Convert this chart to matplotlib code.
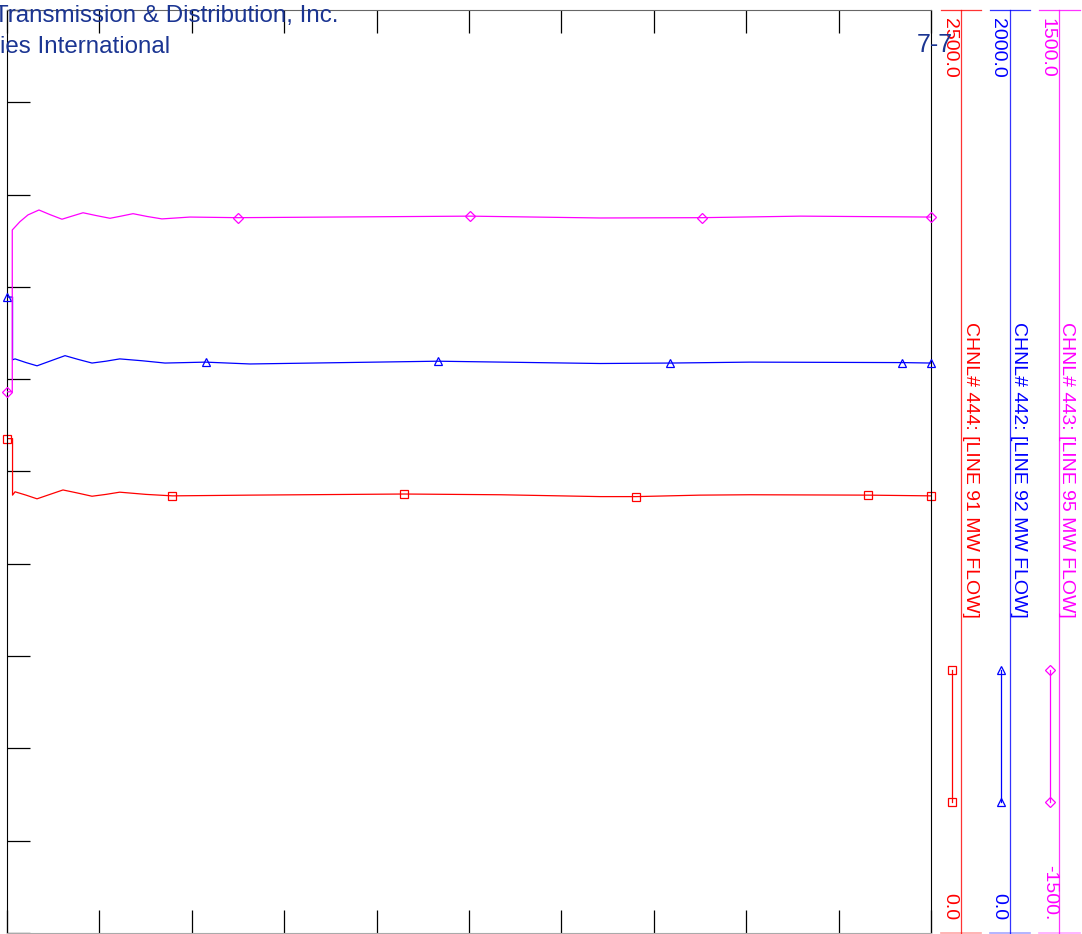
import matplotlib.pyplot as plt

plt.rcParams['font.family'] = ['Liberation Sans', 'DejaVu Sans']

# time (s) and MW flow
red_t = [0, 0.06, 0.06, 0.087, 0.206, 0.325, 0.465, 0.606, 0.758, 0.92, 1.071, 1.22, 1.504, 1.79,
         2.63, 4.30, 5.34, 6.42, 6.81, 7.5, 8.04, 9.32, 10.0]
red_v = [1339, 1339, 1186, 1195, 1186, 1176, 1188, 1200, 1192, 1183, 1188, 1194, 1188, 1184,
         1186, 1189, 1187, 1182, 1182, 1186, 1187, 1186, 1184]

blue_t = [0, 0.06, 0.06, 0.087, 0.206, 0.325, 0.476, 0.628, 0.768, 0.92, 1.071, 1.22, 1.46, 1.71,
          2.15, 2.63, 4.66, 6.42, 7.18, 8.04, 9.69, 10.0]
blue_v = [1378, 1378, 1242, 1244, 1236, 1229, 1240, 1251, 1243, 1235, 1239, 1244, 1240, 1235,
          1237, 1233, 1239, 1234, 1235, 1237, 1236, 1235]

mag_t = [0, 0.057, 0.057, 0.14, 0.227, 0.346, 0.465, 0.595, 0.703, 0.823, 0.963, 1.115, 1.234,
         1.364, 1.515, 1.677, 1.98, 2.5, 5.01, 6.42, 7.52, 8.59, 10.0]
mag_v = [259, 259, 785, 812, 834, 850, 835, 820, 830, 841, 832, 823, 830,
         838, 829, 821, 827, 825, 830, 824, 825, 830, 827]

# plot symbols
red_mk_t = [0, 1.79, 4.30, 6.81, 9.32, 10.0]
red_mk_v = [1339, 1184, 1189, 1182, 1186, 1184]
blue_mk_t = [0, 2.15, 4.66, 7.18, 9.69, 10.0]
blue_mk_v = [1378, 1237, 1239, 1235, 1236, 1235]
mag_mk_t = [0, 2.5, 5.01, 7.52, 10.0]
mag_mk_v = [259, 825, 830, 825, 827]

channels = ['CHNL# 444: [LINE 91 MW FLOW]', 'CHNL# 442: [LINE 92 MW FLOW]', 'CHNL# 443: [LINE 95 MW FLOW]']
scale_min = [0.0, 0.0, -1500.0]
scale_max = [2500.0, 2000.0, 1500.0]
min_labels = ['0.0', '0.0', '-1500.']
max_labels = ['2500.0', '2000.0', '1500.0']
colors = ['#ff0000', '#0000ff', '#ff00ff']
markers = ['s', '^', 'D']

fig = plt.figure(figsize=(10.82, 9.34), dpi=100)
W, H = 1082, 934
ax = fig.add_axes([7 / W, 1 / H, 924 / W, 923 / H])
ax.set_xlim(0, 10)
ax.set_ylim(scale_min[0], scale_max[0])
ax.set_xticks(range(11))
ax.set_yticks([scale_min[0] + i * (scale_max[0] - scale_min[0]) / 10 for i in range(11)])
ax.tick_params(direction='in', length=16.5, width=0.9, top=True, right=True,
               labelbottom=False, labelleft=False, color='black')
ax.spines['left'].set_color('black')
ax.spines['right'].set_color('black')
ax.spines['top'].set_color('#666666')
ax.spines['bottom'].set_color('#aaaaaa')

ax_b = ax.twinx()
ax_b.set_ylim(scale_min[1], scale_max[1])
ax_b.axis('off')
ax_m = ax.twinx()
ax_m.set_ylim(scale_min[2], scale_max[2])
ax_m.axis('off')

mk = dict(mfc='none', mew=0.9, ms=6, ls='none', clip_on=False)
ax.plot(red_t, red_v, color=colors[0], lw=0.9)
ax.plot(red_mk_t, red_mk_v, marker='s', color=colors[0], **mk)
ax_b.plot(blue_t, blue_v, color=colors[1], lw=0.9)
ax_b.plot(blue_mk_t, blue_mk_v, marker='^', color=colors[1], **mk)
ax_m.plot(mag_t, mag_v, color=colors[2], lw=0.9)
ax_m.plot(mag_mk_t, mag_mk_v, marker='D', color=colors[2], **dict(mk, ms=4.8))

# overlay in pixel coordinates for the scale strip and page header
ov = fig.add_axes([0, 0, 1, 1])
ov.set_xlim(0, W)
ov.set_ylim(H, 0)
ov.axis('off')

axis_x = [961, 1010, 1059]
cap_x = [(941, 981), (990, 1030), (1039, 1080)]
top_lab_x = [950, 998, 1047]
bot_lab_x = [950, 999, 1050]
chan_x = [970, 1018, 1067]
leg_x = [952, 1001, 1050]
for i in range(3):
    c = colors[i]
    ov.plot([axis_x[i], axis_x[i]], [10, 933], color=c, lw=0.9, alpha=0.8)
    ov.plot(cap_x[i], [10, 10], color=c, lw=0.9, alpha=0.8)
    ov.plot(cap_x[i], [933, 933], color=c, lw=1.2, alpha=0.35)
    ov.text(top_lab_x[i], 18, max_labels[i], color=c, rotation=270, fontsize=14,
            ha='center', va='top')
    ov.text(bot_lab_x[i], 920, min_labels[i], color=c, rotation=270, fontsize=14,
            ha='center', va='bottom')
    ov.text(chan_x[i], 322, channels[i], color=c, rotation=270, fontsize=14,
            ha='center', va='top')
    ms = 4.8 if markers[i] == 'D' else 6
    ov.plot([leg_x[i], leg_x[i]], [670, 802], color=c, lw=0.9, marker=markers[i],
            mfc='none', mew=0.9, ms=ms)

hdr = '#1b3592'
ov.text(338, 22, 'Transmission & Distribution, Inc.', color=hdr, fontsize=17.4,
        ha='right', va='baseline')
ov.text(0, 53, 'ies International', color=hdr, fontsize=17.4, ha='left', va='baseline')
ov.text(953, 52, '7-7', color=hdr, fontsize=18, ha='right', va='baseline')

fig.savefig('out.png', dpi=100)
